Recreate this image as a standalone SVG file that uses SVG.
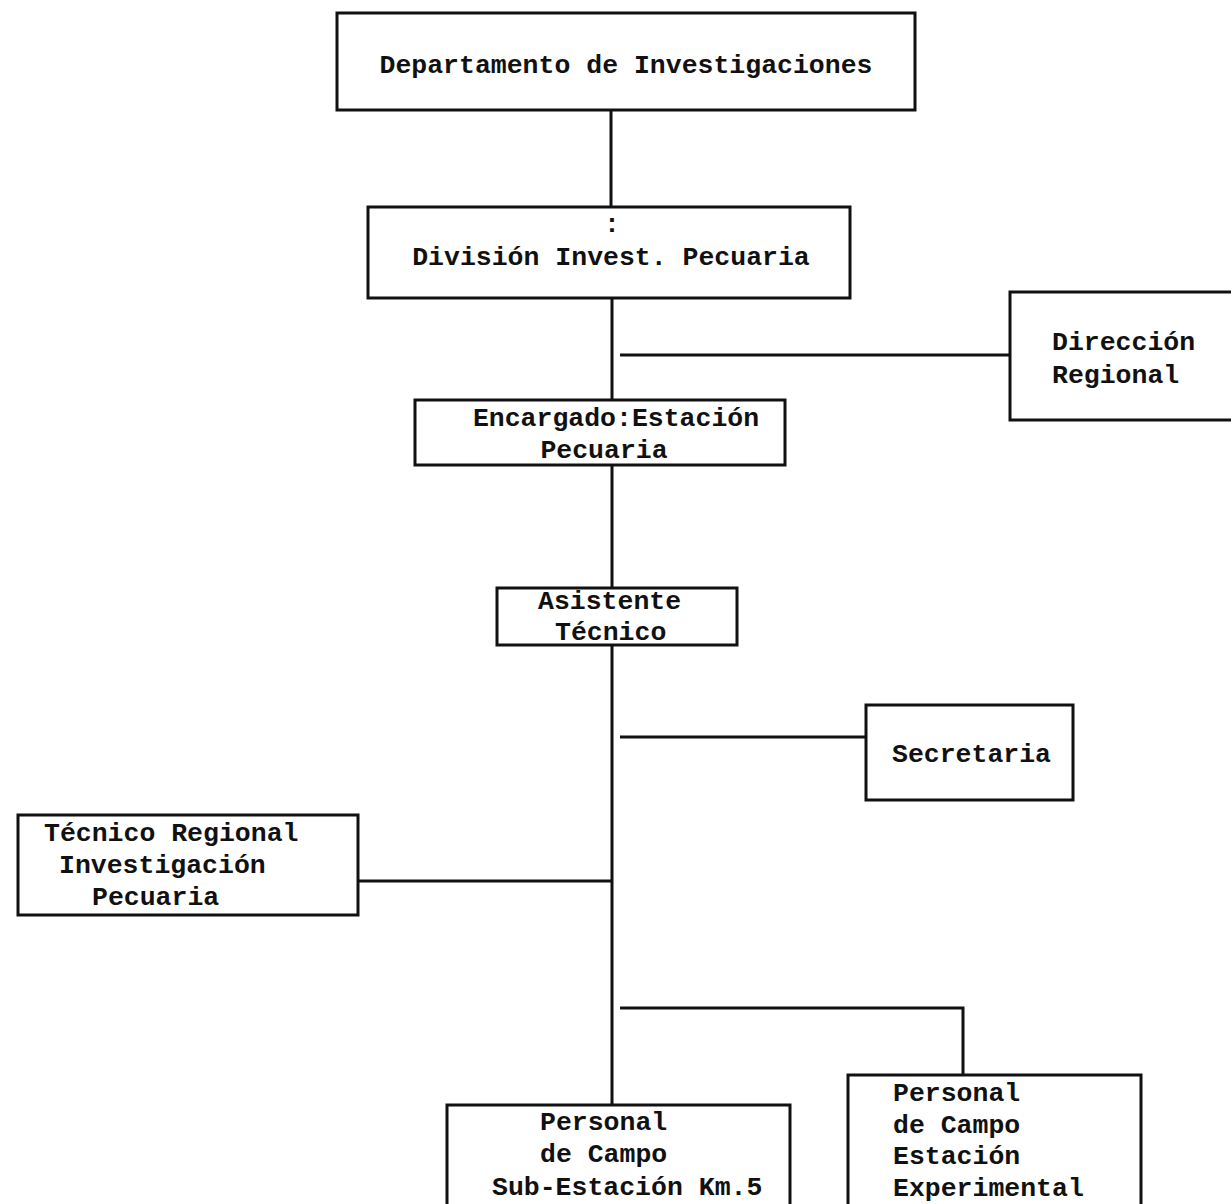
<svg xmlns="http://www.w3.org/2000/svg" width="1231" height="1204" viewBox="0 0 1231 1204">
<style>
.box{fill:#fff;stroke:#111;stroke-width:3}
.ln{stroke:#111;stroke-width:3;fill:none}
text{font-family:"Liberation Mono","DejaVu Sans Mono",monospace;font-size:26.5px;font-weight:bold;fill:#111}
</style>
<rect width="1231" height="1204" fill="#fff"/>
<g id="connectors">
<line class="ln" x1="611" y1="110" x2="611" y2="207"/>
<line class="ln" x1="612" y1="298" x2="612" y2="400"/>
<line class="ln" x1="620" y1="355" x2="1010" y2="355"/>
<line class="ln" x1="612" y1="465" x2="612" y2="588"/>
<line class="ln" x1="612" y1="645" x2="612" y2="1105"/>
<line class="ln" x1="620" y1="737" x2="866" y2="737"/>
<line class="ln" x1="358" y1="881" x2="612" y2="881"/>
<polyline class="ln" points="620,1008 963,1008 963,1075"/>
</g>
<g id="n1">
<rect class="box" x="337" y="13" width="578" height="97"/>
<text x="626" y="73" text-anchor="middle">Departamento de Investigaciones</text>
</g>
<g id="n2">
<rect class="box" x="368" y="207" width="482" height="91"/>
<text x="612" y="232" text-anchor="middle">:</text>
<text x="611" y="265" text-anchor="middle">Divisi&#243;n Invest. Pecuaria</text>
</g>
<g id="n3">
<rect class="box" x="1010" y="292" width="225" height="128"/>
<text x="1052" y="350">Direcci&#243;n</text>
<text x="1052" y="383">Regional</text>
</g>
<g id="n4">
<rect class="box" x="415" y="400" width="370" height="65"/>
<text x="616" y="426" text-anchor="middle">Encargado:Estaci&#243;n</text>
<text x="604" y="458" text-anchor="middle">Pecuaria</text>
</g>
<g id="n5">
<rect class="box" x="497" y="588" width="240" height="57"/>
<text x="538" y="609">Asistente</text>
<text x="555" y="640">T&#233;cnico</text>
</g>
<g id="n6">
<rect class="box" x="866" y="705" width="207" height="95"/>
<text x="892" y="762">Secretaria</text>
</g>
<g id="n7">
<rect class="box" x="18" y="815" width="340" height="100"/>
<text x="44" y="841">T&#233;cnico  Regional</text>
<text x="59" y="873">Investigaci&#243;n</text>
<text x="92" y="905">Pecuaria</text>
</g>
<g id="n8">
<rect class="box" x="447" y="1105" width="343" height="104"/>
<text x="540" y="1130">Personal</text>
<text x="540" y="1162">de Campo</text>
<text x="492" y="1195">Sub-Estaci&#243;n Km.5</text>
</g>
<g id="n9">
<rect class="box" x="848" y="1075" width="293" height="134"/>
<text x="893" y="1101">Personal</text>
<text x="893" y="1133">de Campo</text>
<text x="893" y="1164">Estaci&#243;n</text>
<text x="893" y="1196">Experimental</text>
</g>
</svg>
